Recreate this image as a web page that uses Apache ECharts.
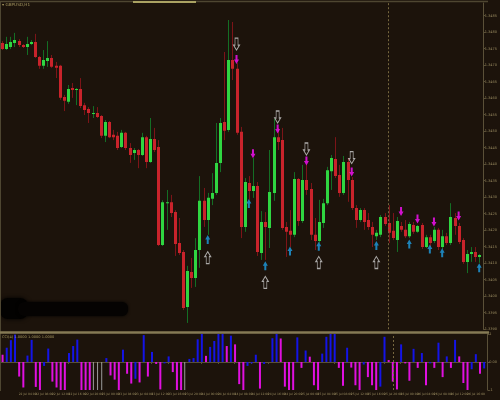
<!DOCTYPE html>
<html>
<head>
<meta charset="utf-8">
<script src="https://cdn.jsdelivr.net/npm/echarts@6/dist/echarts.min.js"></script>
<style>html,body{margin:0;padding:0;background:#1c130b;}#c{width:500px;height:400px;}</style>
</head>
<body>
<div id="c"></div>
<script>
// ---- data ----
const open = [1.34767,1.34749,1.34755,1.34767,1.34773,1.34761,1.34755,1.34764,1.34770,1.34725,1.34698,1.34713,1.34722,1.34698,1.34698,1.34604,1.34589,1.34631,1.34626,1.34628,1.34579,1.34567,1.34552,1.34555,1.34546,1.34486,1.34528,1.34489,1.34486,1.34452,1.34495,1.34449,1.34434,1.34443,1.34428,1.34482,1.34407,1.34476,1.34452,1.34155,1.34282,1.34285,1.34255,1.34161,1.34134,1.33967,1.34073,1.34055,1.34140,1.34289,1.34231,1.34295,1.34313,1.34404,1.34528,1.34504,1.34716,1.34689,1.34498,1.34210,1.34343,1.34319,1.34334,1.34131,1.34225,1.34207,1.34313,1.34482,1.34473,1.34210,1.34198,1.34186,1.34355,1.34228,1.34352,1.34325,1.34186,1.34167,1.34222,1.34282,1.34379,1.34416,1.34367,1.34313,1.34407,1.34352,1.34267,1.34231,1.34261,1.34231,1.34210,1.34182,1.34186,1.34240,1.34222,1.34198,1.34170,1.34213,1.34201,1.34182,1.34216,1.34195,1.34216,1.34149,1.34179,1.34167,1.34201,1.34149,1.34182,1.34161,1.34237,1.34213,1.34170,1.34104,1.34128,1.34134,1.34119];
const close = [1.34749,1.34764,1.34770,1.34776,1.34761,1.34755,1.34764,1.34770,1.34725,1.34698,1.34716,1.34722,1.34695,1.34692,1.34601,1.34592,1.34628,1.34625,1.34628,1.34576,1.34564,1.34555,1.34555,1.34543,1.34486,1.34528,1.34482,1.34482,1.34449,1.34495,1.34449,1.34428,1.34443,1.34428,1.34482,1.34407,1.34476,1.34443,1.34155,1.34285,1.34285,1.34252,1.34158,1.34131,1.33964,1.34076,1.34055,1.34140,1.34289,1.34231,1.34298,1.34313,1.34404,1.34525,1.34501,1.34716,1.34689,1.34495,1.34210,1.34346,1.34319,1.34334,1.34134,1.34225,1.34210,1.34316,1.34482,1.34467,1.34207,1.34195,1.34186,1.34355,1.34228,1.34352,1.34322,1.34186,1.34167,1.34225,1.34282,1.34382,1.34419,1.34364,1.34313,1.34407,1.34352,1.34267,1.34231,1.34261,1.34225,1.34210,1.34186,1.34192,1.34240,1.34219,1.34192,1.34176,1.34228,1.34201,1.34182,1.34219,1.34195,1.34213,1.34149,1.34179,1.34161,1.34201,1.34149,1.34182,1.34161,1.34240,1.34213,1.34164,1.34104,1.34128,1.34134,1.34119,1.34125];
const high = [1.34773,1.34786,1.34786,1.34798,1.34779,1.34764,1.34786,1.34776,1.34795,1.34728,1.34746,1.34773,1.34731,1.34710,1.34701,1.34610,1.34640,1.34646,1.34631,1.34661,1.34586,1.34573,1.34576,1.34573,1.34549,1.34534,1.34531,1.34504,1.34498,1.34504,1.34498,1.34464,1.34449,1.34446,1.34495,1.34486,1.34540,1.34510,1.34473,1.34291,1.34322,1.34307,1.34261,1.34237,1.34140,1.34092,1.34116,1.34176,1.34364,1.34328,1.34313,1.34373,1.34525,1.34540,1.34740,1.34837,1.34831,1.34707,1.34513,1.34358,1.34364,1.34419,1.34346,1.34258,1.34255,1.34443,1.34537,1.34510,1.34510,1.34225,1.34261,1.34376,1.34358,1.34398,1.34398,1.34343,1.34237,1.34292,1.34295,1.34392,1.34428,1.34482,1.34398,1.34425,1.34419,1.34361,1.34276,1.34267,1.34267,1.34252,1.34225,1.34201,1.34246,1.34252,1.34276,1.34252,1.34240,1.34225,1.34231,1.34225,1.34225,1.34216,1.34222,1.34186,1.34186,1.34210,1.34207,1.34201,1.34192,1.34282,1.34252,1.34222,1.34176,1.34140,1.34149,1.34149,1.34128];
const low = [1.34746,1.34746,1.34749,1.34755,1.34755,1.34752,1.34731,1.34761,1.34722,1.34689,1.34689,1.34695,1.34692,1.34661,1.34595,1.34561,1.34583,1.34601,1.34579,1.34570,1.34549,1.34525,1.34540,1.34540,1.34479,1.34467,1.34479,1.34473,1.34443,1.34449,1.34443,1.34404,1.34413,1.34388,1.34425,1.34388,1.34404,1.34437,1.34152,1.34152,1.34201,1.34240,1.34122,1.34125,1.33958,1.33919,1.34025,1.34028,1.34086,1.34210,1.34186,1.34276,1.34307,1.34376,1.34473,1.34498,1.34655,1.34489,1.34176,1.34195,1.34292,1.34298,1.34122,1.34110,1.34110,1.34146,1.34289,1.34443,1.34201,1.34119,1.34149,1.34179,1.34213,1.34222,1.34307,1.34170,1.34140,1.34161,1.34207,1.34276,1.34322,1.34358,1.34301,1.34307,1.34286,1.34261,1.34207,1.34225,1.34201,1.34201,1.34149,1.34170,1.34179,1.34213,1.34161,1.34170,1.34134,1.34195,1.34176,1.34176,1.34189,1.34192,1.34143,1.34146,1.34149,1.34161,1.34140,1.34143,1.34155,1.34155,1.34186,1.34158,1.34098,1.34070,1.34104,1.34104,1.34101];

// signal arrows: [bar index, price]
const sellOutline = [[57,1.34764],[67,1.34543],[74,1.34446],[85,1.34420]];
const sellSignal = [[57,1.34717],[61,1.34432],[67,1.34507],[74,1.34410],[85,1.34376],[97,1.34257],[101,1.34234],[105,1.34225],[111,1.34243]];
const buySignal = [[50,1.34172],[60,1.34281],[64,1.34092],[70,1.34137],[77,1.34151],[91,1.34154],[99,1.34158],[104,1.34143],[107,1.34132],[116,1.34086]];
const buyOutline = [[50,1.34117],[64,1.34042],[77,1.34102],[91,1.34102]];

// lower indicator histogram and its state (1 = up/blue, -1 = down/magenta, 0 = neutral/grey)
const histValues = [0.26,0.51,0.78,0.98,-0.52,-0.91,0.23,0.79,-0.89,-1.0,-0.14,0.48,-0.70,-0.91,-1.0,-1.0,0.32,0.57,0.80,-1.0,-1.0,-1.0,-1.0,-1.0,-1.0,0.14,-0.48,-0.63,-1.0,0.44,-0.42,-0.77,-0.60,-0.73,0.96,-0.52,0.36,-0.07,-0.98,-0.05,0.20,-0.36,-1.0,-1.0,-1.0,0.11,0.14,0.81,1.0,0.22,0.54,0.75,1.0,1.0,0.57,0.94,0.63,-0.79,-1.0,-0.14,-0.05,0.26,-0.95,-0.07,0,0.85,1.0,0.84,-0.88,-1.0,-1.0,0.88,-0.21,0.41,0.19,-0.83,-1.0,0.30,0.90,1.0,1.0,-0.21,-0.85,0.51,-0.20,-0.83,-1.0,-0.09,-0.54,-0.83,-1.0,-0.88,0.90,0.07,-0.70,-0.98,0.63,-0.05,-0.67,0.47,-0.21,0.32,-0.83,-0.05,-0.21,0.69,-0.54,0.20,-0.21,0.79,0.20,-0.75,-1.0,-0.26,0.28,-0.42,-0.23];
const histState = [-1,1,1,1,-1,-1,1,1,-1,-1,1,1,-1,-1,-1,-1,1,1,1,-1,-1,-1,0,0,0,1,-1,-1,-1,1,-1,-1,1,-1,1,-1,1,-1,-1,1,1,-1,-1,-1,0,1,1,1,1,-1,1,1,1,1,-1,1,-1,-1,-1,1,1,1,-1,1,1,1,1,-1,-1,-1,-1,1,-1,1,-1,-1,-1,1,1,1,1,-1,-1,1,-1,-1,-1,1,-1,-1,-1,1,1,-1,-1,-1,1,-1,-1,1,-1,1,-1,1,-1,1,-1,1,-1,1,-1,-1,-1,1,1,-1,1];

// x-axis tick labels (one every 4 bars) and the marked bar of the vertical separator
const timeLabels = ['22 Jul 00:00','22 Jul 04:00','22 Jul 08:00','22 Jul 12:00','22 Jul 16:00','22 Jul 20:00','23 Jul 00:00','23 Jul 04:00','23 Jul 08:00','23 Jul 12:00','23 Jul 16:00','23 Jul 20:00','24 Jul 00:00','24 Jul 04:00','24 Jul 08:00','24 Jul 12:00','24 Jul 16:00','24 Jul 20:00','25 Jul 00:00','25 Jul 04:00','25 Jul 08:00','25 Jul 12:00','25 Jul 16:00','25 Jul 20:00','26 Jul 00:00','26 Jul 04:00','26 Jul 08:00','26 Jul 12:00','26 Jul 16:00','26 Jul 20:00'];
const periodSeparator = 94;
const symbolName = '\u25BE GBPUSD,H1';
const indicatorName = 'CCI(4) 1.0000 1.0000 1.0000';

// ---- chart ----
const barIndex = open.map((_, i) => i);
const BG = '#1c130b', FRAME = '#5a5038', TXT = '#9a8c60';

function renderCandle(params, api) {
  const i = api.value(0), o = api.value(1), c = api.value(2), l = api.value(3), h = api.value(4);
  const pO = api.coord([i, o]), pC = api.coord([i, c]), pL = api.coord([i, l]), pH = api.coord([i, h]);
  const up = c >= o;
  const x = Math.round(pO[0]);
  const top = Math.min(pO[1], pC[1]), bot = Math.max(pO[1], pC[1]);
  return {
    type: 'group',
    children: [
      { type: 'line', shape: { x1: x + 0.5, y1: pH[1], x2: x + 0.5, y2: pL[1] },
        style: { stroke: up ? '#146e24' : '#7c1418', lineWidth: 1 } },
      { type: 'rect', shape: { x: x - 1, y: top, width: 3, height: Math.max(1, bot - top) },
        style: { fill: up ? '#2fd641' : '#c9232b' } }
    ]
  };
}

const downPath = 'path://M3,0 L7,0 L7,5 L10,5 L5,10 L0,5 L3,5 Z';
const upPath = 'path://M5,0 L10,5 L7,5 L7,10 L3,10 L3,5 L0,5 Z';
const outDown = 'path://M2,0 L6,0 L6,7 L8,7 L4,12 L0,7 L2,7 Z';
const outUp = 'path://M4,0 L8,5 L6,5 L6,12 L2,12 L2,5 L0,5 Z';

function histSeries(state, color, width) {
  return {
    type: 'bar', xAxisIndex: 1, yAxisIndex: 1, barWidth: width, barGap: '-100%',
    data: histValues.map((v, i) => histState[i] === state ? v : null),
    itemStyle: { color: color }, silent: true, animation: false
  };
}

const chart = echarts.init(document.getElementById('c'), null, { renderer: 'canvas' });
chart.setOption({
  backgroundColor: BG,
  animation: false,
  grid: [
    { left: -1, width: 487, top: 3, height: 326.2 },
    { left: -1, width: 487, top: 334, height: 56 }
  ],
  xAxis: [
    { type: 'category', gridIndex: 0, data: barIndex, boundaryGap: true, show: false },
    { type: 'category', gridIndex: 1, data: barIndex, boundaryGap: true,
      axisLine: { show: true, lineStyle: { color: FRAME, width: 1 } },
      axisTick: { show: true, interval: 3, alignWithLabel: true, length: 2, lineStyle: { color: FRAME } },
      axisLabel: { interval: 3, align: 'left', fontSize: 3, color: TXT, margin: 2.5,
        fontFamily: 'DejaVu Sans',
        formatter: (v, idx) => timeLabels[Math.round(idx / 4)] || '' } }
  ],
  yAxis: [
    { type: 'value', gridIndex: 0, position: 'right', offset: 2,
      min: 1.3390, max: 1.348885, interval: 0.0005, scale: true,
      axisLine: { show: true, lineStyle: { color: FRAME } },
      axisTick: { show: true, length: 2, lineStyle: { color: FRAME } },
      splitLine: { show: false },
      axisLabel: { fontSize: 3.5, color: TXT, margin: 1.5, showMaxLabel: false, fontFamily: 'DejaVu Sans',
        formatter: v => v.toFixed(4) } },
    { type: 'value', gridIndex: 1, position: 'right', offset: 2,
      min: -1, max: 1, interval: 1,
      axisLine: { show: true, lineStyle: { color: FRAME } },
      axisTick: { show: true, length: 2, lineStyle: { color: FRAME } },
      splitLine: { show: false },
      axisLabel: { fontSize: 3.5, color: TXT, margin: 1.5, fontFamily: 'DejaVu Sans',
        formatter: v => (v === 0 ? '0.00' : String(v)) } }
  ],
  series: [
    { type: 'custom', xAxisIndex: 0, yAxisIndex: 0, renderItem: renderCandle, clip: true,
      encode: { x: 0, y: [1, 2, 3, 4] }, silent: true,
      data: barIndex.map(i => [i, open[i], close[i], low[i], high[i]]),
      markLine: { silent: true, symbol: 'none', label: { show: false },
        lineStyle: { color: '#76673f', type: [2, 2], width: 1 },
        data: [{ xAxis: periodSeparator }] } },
    { type: 'scatter', xAxisIndex: 0, yAxisIndex: 0, data: sellOutline, symbol: outDown, symbolSize: [6, 12],
      itemStyle: { color: BG, borderColor: '#cfcfcf', borderWidth: 1 }, z: 5, silent: true },
    { type: 'scatter', xAxisIndex: 0, yAxisIndex: 0, data: buyOutline, symbol: outUp, symbolSize: [6, 12],
      itemStyle: { color: BG, borderColor: '#cfcfcf', borderWidth: 1 }, z: 5, silent: true },
    { type: 'scatter', xAxisIndex: 0, yAxisIndex: 0, data: sellSignal, symbol: downPath, symbolSize: [5, 9],
      itemStyle: { color: '#ff10ff' }, z: 5, silent: true },
    { type: 'scatter', xAxisIndex: 0, yAxisIndex: 0, data: buySignal, symbol: upPath, symbolSize: [5, 9],
      itemStyle: { color: '#1e9fe4' }, z: 5, silent: true },
    Object.assign(histSeries(1, '#1414e6', 2), {
      markLine: { silent: true, symbol: 'none', label: { show: false },
        lineStyle: { color: '#76673f', type: [2, 2], width: 1 },
        data: [{ xAxis: periodSeparator }] } }),
    histSeries(-1, '#e010e0', 2),
    histSeries(0, '#9a9a9a', 1)
  ],
  graphic: [
    { type: 'line', shape: { x1: 0, y1: 1.5, x2: 488, y2: 1.5 }, style: { stroke: '#4e4631', lineWidth: 1.5 }, z: 10 },
    { type: 'line', shape: { x1: 133, y1: 2, x2: 196, y2: 2 }, style: { stroke: '#aaa262', lineWidth: 2 }, z: 11 },
    { type: 'line', shape: { x1: 0.5, y1: 1, x2: 0.5, y2: 391 }, style: { stroke: '#4e4631', lineWidth: 1 }, z: 10 },
    { type: 'rect', shape: { x: 0, y: 331.2, width: 489, height: 2.6 }, style: { fill: '#857a55' }, z: 10 },
    { type: 'text', x: 2, y: 3, style: { text: symbolName, fontSize: 4.2, fill: '#a99a62', fontFamily: 'DejaVu Sans' }, z: 12 },
    { type: 'text', x: 2, y: 335.3, style: { text: indicatorName, fontSize: 3.6, fill: '#a99a62', fontFamily: 'DejaVu Sans' }, z: 12 },
    { type: 'group', z: 9, children: [
      { type: 'rect', shape: { x: 0, y: 298, width: 28, height: 21, r: 8 }, style: { fill: '#030201', shadowBlur: 4, shadowColor: '#000' } },
      { type: 'rect', shape: { x: 18, y: 302, width: 110, height: 14, r: 6 }, style: { fill: '#050302', shadowBlur: 3, shadowColor: '#000' } }
    ] }
  ]
});
</script>
</body>
</html>
